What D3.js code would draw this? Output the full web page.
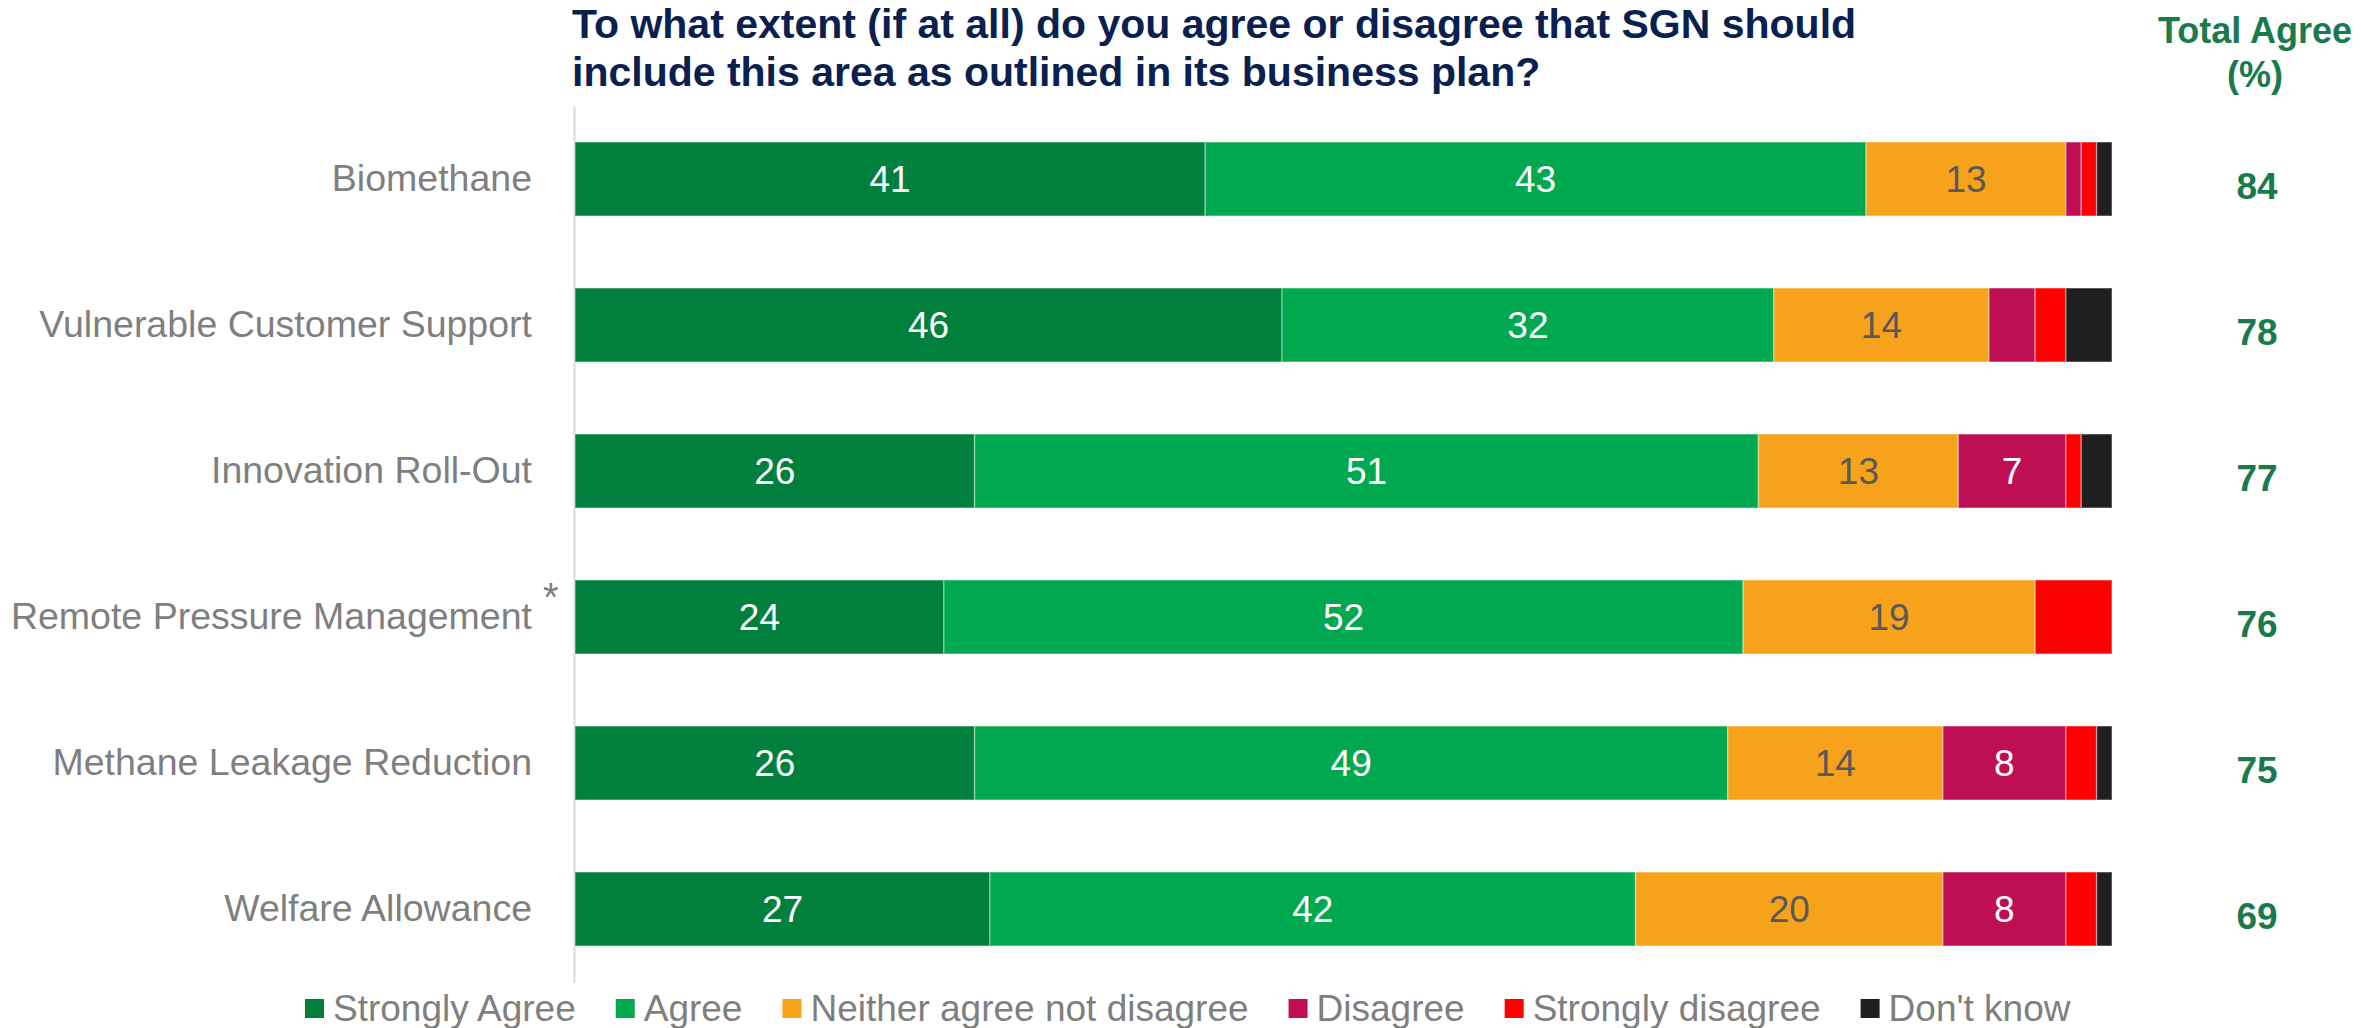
<!DOCTYPE html>
<html>
<head>
<meta charset="utf-8">
<script src="https://d3js.org/d3.v7.min.js"></script>
<style>
  body { margin: 0; background: #ffffff; }
  text { font-family: Arial, "Liberation Sans", sans-serif; }
</style>
</head>
<body>
<div id="my_dataviz_bar"></div>
<script>
// chart data
var categories = ["Biomethane", "Vulnerable Customer Support", "Innovation Roll-Out",
    "Remote Pressure Management", "Methane Leakage Reduction", "Welfare Allowance"];
var seriesNames = ["Strongly Agree", "Agree", "Neither agree not disagree",
    "Disagree", "Strongly disagree", "Don't know"];
var stronglyAgree = [41, 46, 26, 24, 26, 27];
var agree = [43, 32, 51, 52, 49, 42];
var neither = [13, 14, 13, 19, 14, 20];
var disagree = [1, 3, 7, 0, 8, 8];
var stronglyDisagree = [1, 2, 1, 5, 2, 2];
var dontKnow = [1, 3, 2, 0, 1, 1];
var totalAgree = [84, 78, 77, 76, 75, 69];
var starred = ["Remote Pressure Management"];

var colors = ["#00803c", "#00a850", "#f7a21b", "#be0f54", "#ff0000", "#1f1f1f"];
var labelColors = ["#ffffff", "#ffffff", "#595959", "#ffffff", "#ffffff", "#ffffff"];

// set the dimensions of the graph
var width = 2361,
    height = 1028;

var svg = d3.select("#my_dataviz_bar")
    .append("svg")
    .attr("width", width)
    .attr("height", height);

// build a table the stack layout can use
var table = categories.map(function (c, i) {
    return {
        cat: c,
        s0: stronglyAgree[i], s1: agree[i], s2: neither[i],
        s3: disagree[i], s4: stronglyDisagree[i], s5: dontKnow[i]
    };
});
var keys = ["s0", "s1", "s2", "s3", "s4", "s5"];
var stacked = d3.stack().keys(keys)(table);

// X scale (percent)
var x = d3.scaleLinear()
    .domain([0, 100])
    .range([575, 2112]);

// Y scale (one band per category)
var y = d3.scaleBand()
    .domain(categories)
    .range([106, 982])
    .paddingInner(0.493)
    .paddingOuter(0.2465);

// Title
svg.append("text")
    .attr("x", 572)
    .attr("y", 38)
    .attr("fill", "#0a2150")
    .attr("font-size", 41)
    .attr("font-weight", "bold")
    .text("To what extent (if at all) do you agree or disagree that SGN should");
svg.append("text")
    .attr("x", 572)
    .attr("y", 86)
    .attr("fill", "#0a2150")
    .attr("font-size", 41)
    .attr("font-weight", "bold")
    .text("include this area as outlined in its business plan?");

// Total agree header
svg.append("text")
    .attr("x", 2255)
    .attr("y", 43)
    .attr("text-anchor", "middle")
    .attr("fill", "#1a7a4c")
    .attr("font-size", 36)
    .attr("font-weight", "bold")
    .text("Total Agree");
svg.append("text")
    .attr("x", 2255)
    .attr("y", 87)
    .attr("text-anchor", "middle")
    .attr("fill", "#1a7a4c")
    .attr("font-size", 36)
    .attr("font-weight", "bold")
    .text("(%)");

// Y axis: only the line and the category labels
var yAxis = svg.append("g")
    .attr("transform", "translate(574,0)")
    .call(d3.axisLeft(y).tickSize(0).tickPadding(42));
yAxis.select(".domain")
    .attr("stroke", "#d9d9d9")
    .attr("stroke-width", 2);
yAxis.selectAll(".tick text")
    .attr("font-family", "Arial, 'Liberation Sans', sans-serif")
    .attr("font-size", 37.5)
    .attr("fill", "#7f7f7f");

// asterisk next to starred categories (raised)
svg.selectAll(".star")
    .data(starred)
    .enter()
    .append("text")
    .attr("class", "star")
    .attr("x", 543)
    .attr("y", function (d) { return y(d) + y.bandwidth() / 2 - 20; })
    .attr("dy", "0.35em")
    .attr("fill", "#7f7f7f")
    .attr("font-size", 40)
    .text("*");

// stacked bars
var layers = svg.append("g")
    .selectAll("g")
    .data(stacked)
    .enter()
    .append("g")
    .attr("fill", function (d, i) { return colors[i]; });

layers.selectAll("rect")
    .data(function (d) { return d; })
    .enter()
    .append("rect")
    .attr("x", function (d) { return x(d[0]); })
    .attr("y", function (d) { return y(d.data.cat); })
    .attr("width", function (d) { return x(d[1]) - x(d[0]); })
    .attr("height", y.bandwidth())
    .attr("stroke", "#ffffff")
    .attr("stroke-opacity", 0.35)
    .attr("stroke-width", 1.5);

// value labels inside segments
layers.selectAll("text")
    .data(function (d, i) { return d.map(function (p) { return { p: p, s: i }; }); })
    .enter()
    .filter(function (d) { return d.p[1] - d.p[0] >= 7; })
    .append("text")
    .attr("x", function (d) { return (x(d.p[0]) + x(d.p[1])) / 2; })
    .attr("y", function (d) { return y(d.p.data.cat) + y.bandwidth() / 2; })
    .attr("dy", "0.35em")
    .attr("text-anchor", "middle")
    .attr("font-size", 37)
    .attr("fill", function (d) { return labelColors[d.s]; })
    .text(function (d) { return d.p[1] - d.p[0]; });

// total agree column
svg.selectAll(".total")
    .data(totalAgree)
    .enter()
    .append("text")
    .attr("class", "total")
    .attr("x", 2257)
    .attr("y", function (d, i) { return y(categories[i]) + y.bandwidth() / 2 + 7; })
    .attr("dy", "0.35em")
    .attr("text-anchor", "middle")
    .attr("font-size", 37)
    .attr("font-weight", "bold")
    .attr("fill", "#1a7a4c")
    .text(function (d) { return d; });

// legend, laid out left to right
var legend = svg.append("g");
var lx = 305;
seriesNames.forEach(function (name, i) {
    legend.append("rect")
        .attr("x", lx)
        .attr("y", 999)
        .attr("width", 19)
        .attr("height", 19)
        .attr("fill", colors[i]);
    var t = legend.append("text")
        .attr("x", lx + 28)
        .attr("y", 1021)
        .attr("font-size", 37)
        .attr("fill", "#7f7f7f")
        .text(name);
    lx += 28 + t.node().getComputedTextLength() + 40;
});
</script>
</body>
</html>
